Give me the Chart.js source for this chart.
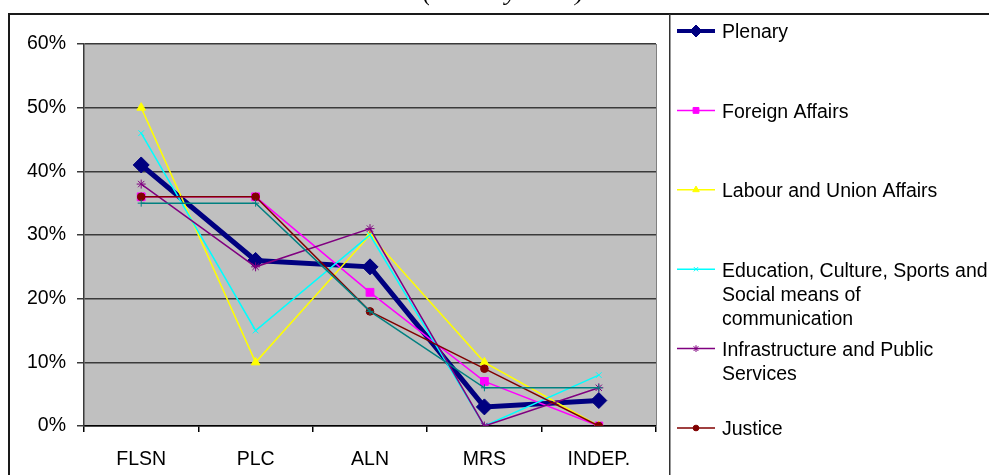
<!DOCTYPE html>
<html>
<head>
<meta charset="utf-8">
<script src="https://cdn.jsdelivr.net/npm/chart.js@4"></script>
<style>
  body { margin: 0; background: #fff; }
  #wrap { position: relative; width: 989px; height: 475px; overflow: hidden; }
  #title { position: absolute; left: 423px; top: -21px; font: italic 26px "Liberation Serif", "Times New Roman", serif; line-height: 26px; white-space: nowrap; z-index: 2; }
  canvas { position: absolute; left: 0; top: 0; }
</style>
</head>
<body>
<div id="wrap">
  <div id="title">(January 2008)</div>
  <canvas id="chart" width="989" height="475"></canvas>
</div>
<script>
// Chart values (percent of speaking time per group)
const categories = ['FLSN', 'PLC', 'ALN', 'MRS', 'INDEP.'];
const plenary = [41, 26, 25, 3, 4];
const foreignAffairs = [36, 36, 21, 7, 0];
const labourUnion = [50, 10, 30, 10, 0];
const education = [46, 15, 30, 0, 8];
const infrastructure = [38, 25, 31, 0, 6];
const justice = [36, 36, 18, 9, 0];
const unlabelled = [35, 35, 18, 6, 6]; // teal series, its legend entry is cut off
const yTicks = [0, 10, 20, 30, 40, 50, 60];

const FONT = '"Liberation Sans", Arial, sans-serif';

// Build a dataset in the old spreadsheet style
function series(label, data, color, style, radius, width) {
  return {
    label: label,
    data: data,
    borderColor: color,
    backgroundColor: color,
    borderWidth: width || 1.5,
    pointStyle: style,
    pointRadius: radius,
    pointBorderWidth: 1,
    pointBackgroundColor: color,
    pointBorderColor: color,
    tension: 0
  };
}

const datasets = [
  series('Plenary', plenary, '#000080', 'rectRot', 8, 5),
  series('Foreign Affairs', foreignAffairs, '#FF00FF', 'rect', 5.5),
  series('Labour and Union Affairs', labourUnion, '#FFFF00', 'triangle', 5),
  series('Education, Culture, Sports and Social means of communication', education, '#00FFFF', 'crossRot', 4),
  series('Infrastructure and Public Services', infrastructure, '#800080', 'star', 4.5),
  series('Justice', justice, '#800000', 'circle', 3.8),
  series('', unlabelled, '#008080', 'cross', 3.5)
];
// later series are painted on top, like the original
datasets.forEach((d, i) => { d.order = datasets.length - i; });

// Background, frame lines and the wrapped legend on the right
const framePlugin = {
  id: 'frame',
  beforeDraw(chart) {
    const { ctx, chartArea: a } = chart;
    ctx.save();
    ctx.fillStyle = '#fff';
    ctx.fillRect(0, 0, chart.width, chart.height);
    ctx.fillStyle = '#c0c0c0';
    ctx.fillRect(a.left, a.top, a.right - a.left, a.bottom - a.top);
    ctx.restore();
  },
  afterDraw(chart) {
    const { ctx, chartArea: a } = chart;
    ctx.save();
    // outer frame
    ctx.fillStyle = '#1a1a1a';
    ctx.fillRect(8, 13, chart.width - 8, 2);
    ctx.fillRect(8, 13, 2, chart.height - 13);
    ctx.fillStyle = '#333';
    ctx.fillRect(669, 14, 1.5, chart.height - 14);
    // right edge of plot area
    ctx.strokeStyle = '#808080';
    ctx.lineWidth = 1;
    ctx.beginPath();
    ctx.moveTo(a.right + 0.5, a.top);
    ctx.lineTo(a.right + 0.5, a.bottom);
    ctx.stroke();

    // legend
    ctx.font = '19.5px ' + FONT;
    ctx.textBaseline = 'middle';
    let k = 0;
    chart.data.datasets.forEach(ds => {
      if (!ds.label) return;
      const y = 31 + k * 79.4;
      ctx.strokeStyle = ds.borderColor;
      ctx.lineWidth = ds.borderWidth > 2 ? 4 : 1.5;
      ctx.beginPath();
      ctx.moveTo(677, y);
      ctx.lineTo(715, y);
      ctx.stroke();
      ctx.fillStyle = ds.borderColor;
      ctx.lineWidth = 1;
      Chart.helpers.drawPoint(ctx, {
        pointStyle: ds.pointStyle,
        radius: ds.pointRadius * 0.75,
        borderWidth: 1,
        rotation: 0
      }, 696, y);
      // word wrap
      const words = ds.label.split(' ');
      const lines = [];
      let line = '';
      words.forEach(w => {
        const test = line ? line + ' ' + w : w;
        if (ctx.measureText(test).width > 268 && line) {
          lines.push(line);
          line = w;
        } else {
          line = test;
        }
      });
      lines.push(line);
      ctx.fillStyle = '#000';
      lines.forEach((l, j) => ctx.fillText(l, 722, y + 2 + j * 24));
      k++;
    });
    ctx.restore();
  }
};

new Chart(document.getElementById('chart').getContext('2d'), {
  type: 'line',
  data: {
    labels: categories,
    datasets: datasets
  },
  options: {
    responsive: false,
    animation: false,
    layout: {
      padding: { left: 0, right: 333, top: 44, bottom: 0 }
    },
    plugins: {
      legend: { display: false },
      tooltip: { enabled: false }
    },
    scales: {
      x: {
        type: 'category',
        offset: true,
        afterFit: s => { s.height = 49; },
        grid: { offset: true, drawOnChartArea: false, tickLength: 6, color: '#000', lineWidth: 1.5 },
        border: { color: '#000', width: 1.5 },
        ticks: { color: '#000', padding: 16, font: { family: FONT, size: 19.5 } }
      },
      y: {
        min: 0,
        max: 60,
        afterFit: s => { s.width = 84; },
        afterBuildTicks: s => { s.ticks = yTicks.map(v => ({ value: v })); },
        grid: { color: '#3a3a3a', lineWidth: 1.5, tickLength: 7 },
        border: { color: '#3a3a3a', width: 1.5 },
        ticks: {
          color: '#000',
          padding: 11,
          font: { family: FONT, size: 19.5 },
          callback: v => v + '%'
        }
      }
    }
  },
  plugins: [framePlugin]
});
</script>
</body>
</html>
